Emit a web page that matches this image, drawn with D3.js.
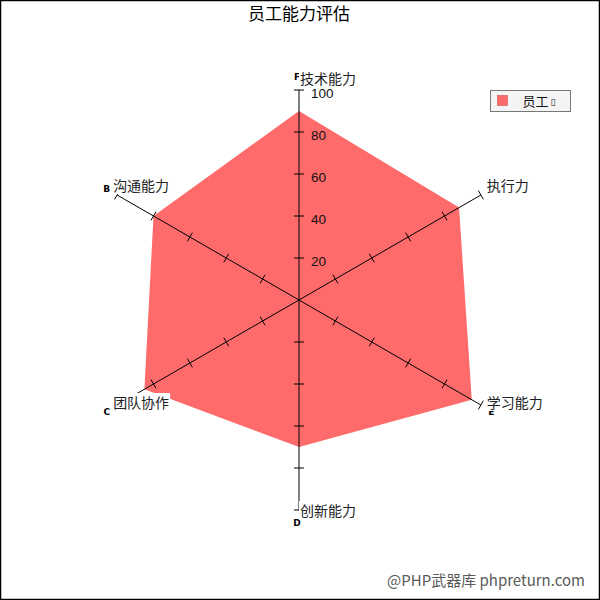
<!DOCTYPE html>
<html>
<head>
<meta charset="utf-8">
<script src="https://cdn.jsdelivr.net/npm/d3@7"></script>
<style>
  body { margin: 0; background: #fff; }
  svg { display: block; }
</style>
</head>
<body>
<div id="main"></div>
<script>
// data
const categories = ['技术能力', '执行力', '学习能力', '创新能力', '团队协作', '沟通能力'];
const axisLetters = ['F', '', 'E', 'D', 'C', 'B'];
const values = [90, 88, 95, 70, 85, 80];
const seriesName = '员工';
const tickValues = [20, 40, 60, 80, 100];

const width = 600;
const height = 600;
const cx = 299;
const cy = 300;
const radius = 210;
const cjk = '"Noto Sans CJK SC", "Noto Sans", sans-serif';

const svg = d3.select('#main')
  .append('svg')
  .attr('width', width)
  .attr('height', height);

// radial scale and angle for each axis
const rScale = d3.scaleLinear().domain([0, 100]).range([0, radius]);
const angle = d3.scaleLinear().domain([0, categories.length]).range([0, 2 * Math.PI]);
const dir = i => [Math.sin(angle(i)), -Math.cos(angle(i))];
const pt = (i, v) => [cx + dir(i)[0] * rScale(v), cy + dir(i)[1] * rScale(v)];

// filled series polygon
const line = d3.line().curve(d3.curveLinearClosed);
svg.append('path')
  .attr('d', line(values.map((v, i) => pt(i, v))))
  .attr('fill', '#ff6a6a')
  .attr('stroke', 'none');

// axis lines
const axes = svg.append('g').attr('class', 'axes');
categories.forEach((c, i) => {
  const end = pt(i, 100);
  axes.append('line')
    .attr('x1', cx).attr('y1', cy)
    .attr('x2', end[0]).attr('y2', end[1])
    .attr('stroke', '#000').attr('stroke-width', 1);

  // ticks across the axis
  const [dx, dy] = dir(i);
  tickValues.forEach(t => {
    const p = pt(i, t);
    axes.append('line')
      .attr('x1', p[0] - dy * 5).attr('y1', p[1] + dx * 5)
      .attr('x2', p[0] + dy * 5).attr('y2', p[1] - dx * 5)
      .attr('stroke', '#000').attr('stroke-width', 1);
  });
});

// tick labels on the first axis only
svg.append('g').selectAll('text')
  .data(tickValues)
  .enter().append('text')
  .attr('x', cx + 12)
  .attr('y', d => pt(0, d)[1])
  .attr('dy', '0.62em')
  .attr('font-family', '"Liberation Sans", Arial, sans-serif')
  .attr('font-size', 13.5)
  .attr('fill', '#111')
  .text(d => d);

// small axis letters at the ends (mostly hidden under the labels)
svg.append('g').selectAll('text')
  .data(axisLetters)
  .enter().append('text')
  .attr('x', (d, i) => pt(i, 100)[0] + dir(i)[0] * 12 - (Math.abs(dir(i)[0]) < 0.01 ? 2 : 0))
  .attr('y', (d, i) => pt(i, 100)[1] + dir(i)[1] * 13)
  .attr('dy', '0.36em')
  .attr('text-anchor', 'middle')
  .attr('font-family', '"DejaVu Sans", sans-serif')
  .attr('font-weight', 'bold')
  .attr('font-size', 9)
  .attr('fill', '#000')
  .text(d => d);

// category labels with white backing
const labels = svg.append('g').attr('class', 'labels');
categories.forEach((c, i) => {
  const [dx, dy] = dir(i);
  const end = pt(i, 100);
  let x, y;
  if (Math.abs(dx) < 0.01) {
    x = end[0] + 1;
    y = dy < 0 ? end[1] - 6 : end[1] + 6;
  } else {
    x = dx > 0 ? end[0] + 6 : end[0] - 4;
    y = dy < 0 ? end[1] - 4 : end[1] + 3;
  }
  const g = labels.append('g');
  const bg = g.append('rect').attr('fill', '#fff');
  const t = g.append('text')
    .attr('x', x).attr('y', y)
    .attr('font-family', cjk)
    .attr('font-size', 14)
    .attr('fill', '#222')
    .text(c);
  const b = t.node().getBBox();
  bg.attr('x', b.x - 1).attr('y', b.y + 1).attr('width', b.width + 2).attr('height', b.height - 2);
});

// title
svg.append('text')
  .attr('x', cx)
  .attr('y', 20)
  .attr('text-anchor', 'middle')
  .attr('font-family', cjk)
  .attr('font-size', 17)
  .attr('fill', '#000')
  .text('员工能力评估');

// legend
const legend = svg.append('g').attr('transform', 'translate(490.5,90.5)');
legend.append('rect')
  .attr('width', 80).attr('height', 21)
  .attr('fill', '#f4f4f4').attr('stroke', '#777');
legend.append('rect')
  .attr('x', 7).attr('y', 5).attr('width', 10).attr('height', 10)
  .attr('fill', '#ff6a6a').attr('stroke', '#d05050').attr('stroke-width', 0.6);
legend.append('text')
  .attr('x', 32).attr('y', 15)
  .attr('font-family', cjk)
  .attr('font-size', 13)
  .attr('fill', '#111')
  .text(seriesName);
legend.append('text')
  .attr('x', 60).attr('y', 14)
  .attr('font-family', '"DejaVu Sans", sans-serif')
  .attr('font-size', 9)
  .attr('fill', '#111')
  .text('▯');

// watermark
svg.append('text')
  .attr('x', 585)
  .attr('y', 586)
  .attr('text-anchor', 'end')
  .attr('font-family', cjk)
  .attr('font-size', 15)
  .attr('fill', '#5a5a5a')
  .text('@PHP武器库 phpreturn.com');

// frame
svg.append('rect')
  .attr('x', 0.5).attr('y', 0.5)
  .attr('width', width - 1).attr('height', height - 1)
  .attr('fill', 'none')
  .attr('stroke', '#000')
  .attr('stroke-width', 1.5);
</script>
</body>
</html>
